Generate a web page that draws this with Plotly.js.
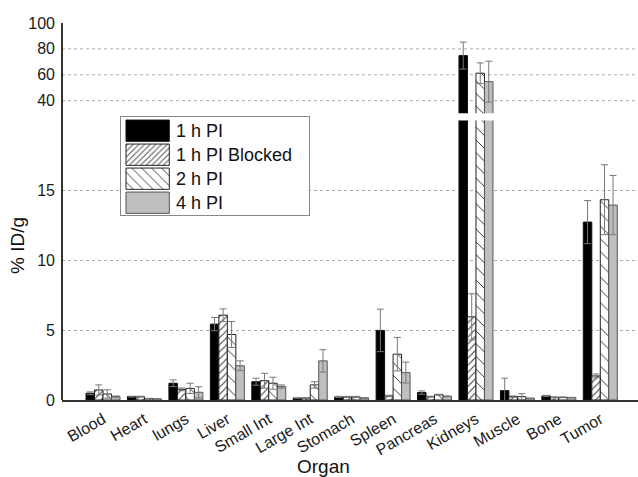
<!DOCTYPE html>
<html>
<head>
<meta charset="utf-8">
<script src="https://cdn.plot.ly/plotly-3.0.1.min.js"></script>
<style>html,body{margin:0;padding:0;background:#fff;}#chart{width:638px;height:477px;}</style>
</head>
<body>
<div id="chart"></div>
<script>
// ---- data ----
const organs = ["Blood","Heart","lungs","Liver","Small Int","Large Int","Stomach","Spleen","Pancreas","Kidneys","Muscle","Bone","Tumor"];
const seriesNames = ["1 h PI","1 h PI Blocked","2 h PI","4 h PI"];

const pi1h        = [0.48, 0.24, 1.20, 5.43, 1.31, 0.14, 0.22, 4.98, 0.53, 74.8, 0.67, 0.29, 12.73];
const pi1hErr     = [0.10, 0.03, 0.24, 0.47, 0.25, 0.02, 0.04, 1.52, 0.12, 10.4, 0.89, 0.04, 1.54];
const pi1hBlocked = [0.72, 0.24, 0.76, 6.07, 1.38, 0.14, 0.22, 0.29, 0.24, 5.95, 0.24, 0.19, 1.72];
const pi1hBlkErr  = [0.36, 0.03, 0.10, 0.45, 0.53, 0.02, 0.04, 0.05, 0.03, 1.65, 0.05, 0.03, 0.14];
const pi2h        = [0.43, 0.10, 0.83, 4.69, 1.20, 1.08, 0.22, 3.28, 0.38, 61.2, 0.24, 0.19, 14.33];
const pi2hErr     = [0.30, 0.02, 0.37, 0.93, 0.43, 0.23, 0.04, 1.20, 0.03, 8.0, 0.21, 0.03, 2.50];
const pi4h        = [0.24, 0.08, 0.55, 2.45, 0.96, 2.80, 0.15, 1.96, 0.26, 54.7, 0.12, 0.17, 13.95];
const pi4hErr     = [0.05, 0.01, 0.40, 0.35, 0.12, 0.80, 0.02, 0.75, 0.03, 15.8, 0.02, 0.02, 2.12];

const lowerTicks = [0, 5, 10, 15];
const upperTicks = [40, 60, 80, 100];
const upperGrid  = [40, 60, 80];

// ---- styles ----
const styles = [
  {color:'#000000', line:'#111111', pattern:null, legendPattern:null},
  {color:'#ffffff', line:'#222222',
   pattern:{shape:'/', fgcolor:'#555555', bgcolor:'#ffffff', size:5, solidity:0.22},
   legendPattern:{shape:'/', fgcolor:'#555555', bgcolor:'#ffffff', size:4, solidity:0.25}},
  {color:'#ffffff', line:'#222222',
   pattern:{shape:'\\', fgcolor:'#222222', bgcolor:'#ffffff', size:9, solidity:0.1},
   legendPattern:{shape:'\\', fgcolor:'#222222', bgcolor:'#ffffff', size:7, solidity:0.12}},
  {color:'#bfbfbf', line:'#555555', pattern:null, legendPattern:null}
];
const values = [pi1h, pi1hBlocked, pi2h, pi4h];
const errors = [pi1hErr, pi1hBlkErr, pi2hErr, pi4hErr];

const traces = [];
['y','y2'].forEach(function(ya){
  values.forEach(function(v, i){
    const st = styles[i];
    const marker = {color: st.color, line:{color: st.line, width:1}};
    if (st.pattern) marker.pattern = Object.assign({fillmode:'replace'}, st.pattern);
    traces.push({
      type:'bar', x: organs, y: v, name: seriesNames[i],
      xaxis:'x', yaxis: ya, marker: marker, showlegend:false, hoverinfo:'skip',
      error_y:{type:'data', array: errors[i], symmetric:true, color:'#777777', thickness:1, width:3.5}
    });
  });
});

// legend swatches drawn as small horizontal bars in their own subplot
styles.forEach(function(st, i){
  const marker = {color: st.color, line:{color: st.line, width:1}};
  if (st.legendPattern) marker.pattern = Object.assign({fillmode:'replace'}, st.legendPattern);
  traces.push({
    type:'bar', orientation:'h', x:[1], y:[i], xaxis:'x3', yaxis:'y3',
    width:0.8875, offset:-0.44375, showlegend:false, hoverinfo:'skip', marker: marker
  });
});

const W = 638, H = 477, mL = 62, mR = 0, mT = 23, mB = 77;
const pw = W - mL - mR, ph = H - mT - mB;
const px = x => (x - mL) / pw;
const py = y => (H - mB - y) / ph;

const font = "Liberation Sans, Arial, sans-serif";
const legendRowsY = [130.7, 154.7, 178.7, 202.7];

const annotations = seriesNames.map(function(n, i){
  return {xref:'paper', yref:'paper', x: px(174), y: py(legendRowsY[i]), text:n, showarrow:false,
          xanchor:'left', yanchor:'middle', font:{family:font, size:18, color:'#111'}};
});
annotations.push({xref:'paper', yref:'paper', x: px(18), y: py(246), text:'% ID/g', textangle:-90,
  showarrow:false, xanchor:'center', yanchor:'middle', font:{family:font, size:19, color:'#111'}});
annotations.push({xref:'paper', yref:'paper', x: px(323), y: py(466), text:'Organ',
  showarrow:false, xanchor:'center', yanchor:'middle', font:{family:font, size:19, color:'#111'}});

const shapes = upperGrid.map(function(v){
  return {type:'line', xref:'paper', x0:0, x1:1, yref:'y2', y0:v, y1:v, layer:'below',
          line:{color:'#aaaaaa', width:1, dash:'dot'}};
});
shapes.push({type:'line', xref:'paper', yref:'paper', x0:0, x1:0, y0:0, y1:1, layer:'above',
             line:{color:'#333333', width:2}});

const layout = {
  width: W, height: H,
  margin:{l:mL, r:mR, t:mT, b:mB, pad:0},
  paper_bgcolor:'#ffffff', plot_bgcolor:'#ffffff',
  font:{family:font, color:'#1a1a1a'},
  showlegend:false,
  barmode:'group', bargap:0.18, bargroupgap:0,
  xaxis:{type:'category', domain:[0,1], anchor:'y', range:[-0.99, 12.91],
         showline:true, linecolor:'#333333', linewidth:2, showgrid:false, zeroline:false,
         ticks:'', tickangle:-30, tickfont:{size:16, family:font, color:'#1a1a1a'}, ticklabelstandoff:2},
  yaxis:{domain:[0, py(120.5)], range:[0,20], tickvals:lowerTicks, anchor:'x',
         showgrid:true, gridcolor:'#aaaaaa', griddash:'dot', gridwidth:1, zeroline:false,
         showline:false, ticks:'', tickfont:{size:16, family:font, color:'#1a1a1a'}, ticklabelstandoff:6},
  yaxis2:{domain:[py(113.3), 1], range:[30.25,100], tickvals:upperTicks, anchor:'x',
         showgrid:false, zeroline:false, showline:false, ticks:'',
         tickfont:{size:16, family:font, color:'#1a1a1a'}, ticklabelstandoff:6},
  xaxis3:{domain:[px(120.7), px(308.7)], anchor:'y3', range:[-0.1224, 4.219],
         showline:true, mirror:true, linecolor:'#888888', linewidth:1, showgrid:false,
         zeroline:false, showticklabels:false, ticks:'', fixedrange:true},
  yaxis3:{domain:[py(215.3), py(117.3)], anchor:'x3', range:[3.525, -0.558],
         showline:true, mirror:true, linecolor:'#888888', linewidth:1, showgrid:false,
         zeroline:false, showticklabels:false, ticks:'', fixedrange:true},
  annotations: annotations,
  shapes: shapes
};

Plotly.newPlot('chart', traces, layout, {staticPlot:true, displayModeBar:false});
</script>
</body>
</html>
